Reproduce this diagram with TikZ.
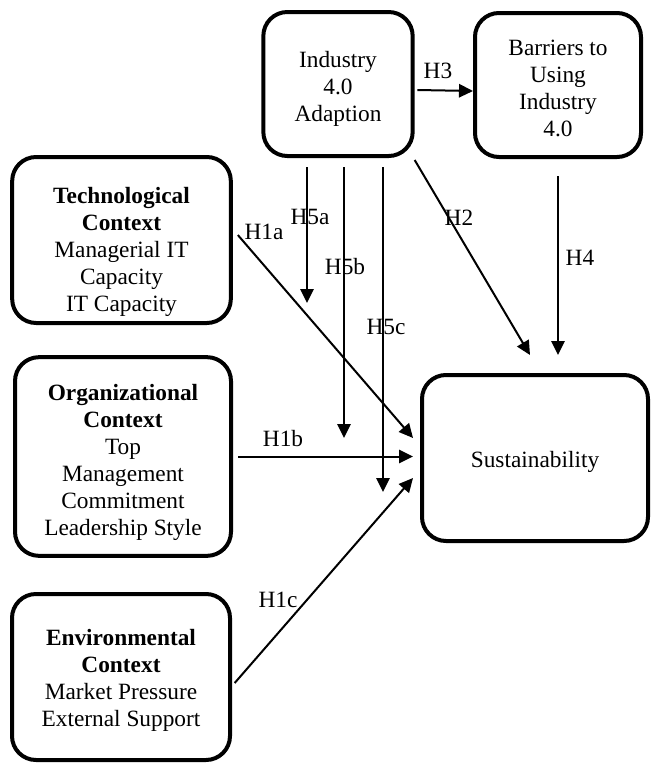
\documentclass[tikz,border=0pt]{standalone}
\usepackage{fontspec}
\setmainfont{Liberation Serif}
\usetikzlibrary{arrows.meta}

% taller first line, pushes the text down in its box
\newcommand{\pushdown}[1]{\rule{0pt}{#1}}

\tikzset{
    box/.style={draw, line width=3pt, rounded corners=18pt, align=center, inner sep=2pt},
    link/.style={-{Triangle[length=10.5pt,width=10pt]}, line width=1.5pt},
}

\begin{document}
\begin{tikzpicture}[x=0.75pt, y=-0.75pt, font=\fontsize{17.5}{20.25}\selectfont]

    % frame
    \useasboundingbox (0,0) rectangle (651,764);

    % boxes
    \node[box, minimum width=112pt, minimum height=108pt] (ind) at (338,84) {\pushdown{19.5pt}Industry\\4.0\\Adaption};
    \node[box, minimum width=124.5pt, minimum height=108pt] (bar) at (558,85) {\pushdown{16.5pt}Barriers to\\Using\\Industry\\4.0};
    \node[box, minimum width=164pt, minimum height=124.5pt] (tech) at (121.5,240) {\pushdown{30pt}\textbf{Technological}\\\textbf{Context}\\Managerial IT\\Capacity\\IT Capacity};
    \node[box, minimum width=162pt, minimum height=149pt] (org) at (123,456.5) {\pushdown{21pt}\textbf{Organizational}\\\textbf{Context}\\Top\\Management\\Commitment\\Leadership Style};
    \node[box, minimum width=163.5pt, minimum height=124.5pt] (env) at (121,677) {\pushdown{16.5pt}\textbf{Environmental}\\\textbf{Context}\\Market Pressure\\External Support};
    \node[box, minimum width=169.5pt, minimum height=124.5pt] (sus) at (535,458) {\pushdown{18pt}Sustainability};

    % arrow ends
    \coordinate (e5a) at (307,303);
    \coordinate (e5b) at (344,438);
    \coordinate (e5c) at (383,492);
    \coordinate (e1a) at (413,438);
    \coordinate (e1b) at (413,456.5);
    \coordinate (e1c) at (413,478);
    \coordinate (e2) at (530,355);
    \coordinate (e4) at (558,355);

    % arrows
    \draw[link] ([xshift=2pt,yshift=-4.5pt]ind.east) -- ([yshift=-4.5pt]bar.west); % H3
    \draw[link] ([xshift=-23.25pt,yshift=-6.75pt]ind.south) -- (e5a); % H5a
    \draw[link] ([xshift=4.5pt,yshift=-6.75pt]ind.south) -- (e5b); % H5b
    \draw[link] ([xshift=33.75pt,yshift=-6.75pt]ind.south) -- (e5c); % H5c
    \draw[link] ([xshift=3.75pt,yshift=3.75pt]tech.east) -- (e1a); % H1a
    \draw[link] ([xshift=3.75pt]org.east) -- (e1b); % H1b
    \draw[link] ([xshift=2pt,yshift=-4.5pt]env.east) -- (e1c); % H1c
    \draw[link] ([yshift=-1.5pt]ind.south east) -- (e2); % H2
    \draw[link] ([yshift=-12.75pt]bar.south) -- (e4); % H4

    % labels
    \node (l3) at (438,71) {H3};
    \node (l5a) at (310,217) {H5a};
    \node (l5b) at (345,267) {H5b};
    \node (l5c) at (386,327) {H5c};
    \node (l1a) at (264,232) {H1a};
    \node (l1b) at (283,439) {H1b};
    \node (l1c) at (278,600) {H1c};
    \node (l2) at (459,218) {H2};
    \node (l4) at (580,258) {H4};

\end{tikzpicture}
\end{document}
